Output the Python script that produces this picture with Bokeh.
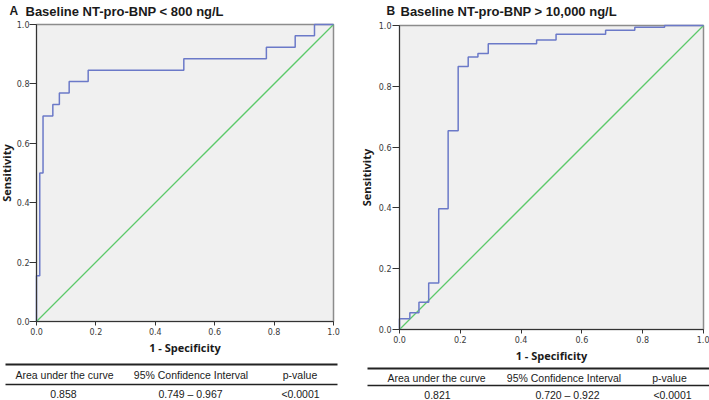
from bokeh.plotting import figure
from bokeh.models import (Range1d, FixedTicker, PrintfTickFormatter, ColumnDataSource,
                          LinearAxis)
from bokeh.core.properties import value
from bokeh.layouts import row
from bokeh.embed import file_html
from bokeh.resources import INLINE

# ---------------- data ----------------
fpr_a = [0.0, 0.0, 0.011, 0.022, 0.055, 0.077, 0.110, 0.174, 0.496, 0.774, 0.871, 0.936, 1.0]
sens_a = [0.0, 0.154, 0.500, 0.692, 0.731, 0.769, 0.808, 0.846, 0.885, 0.923, 0.962, 1.0, 1.0]

fpr_b = [0.0, 0.0, 0.034, 0.064, 0.096, 0.129, 0.160, 0.193, 0.226, 0.258, 0.292, 0.451, 0.515, 0.678, 0.774, 0.872, 1.0]
sens_b = [0.0, 0.035, 0.055, 0.090, 0.153, 0.397, 0.654, 0.865, 0.896, 0.908, 0.940, 0.952, 0.971, 0.984, 0.994, 1.0, 1.0]

chance_x = [0.0, 1.0]
chance_y = [0.0, 1.0]

tick_values = [0.0, 0.2, 0.4, 0.6, 0.8, 1.0]

letters = ["A", "B"]
titles = ["Baseline NT-pro-BNP < 800 ng/L", "Baseline NT-pro-BNP > 10,000 ng/L"]
x_title = "1 - Specificity"
y_title = "Sensitivity"
table_header = ["Area under the curve", "95% Confidence Interval", "p-value"]
table_a = ["0.858", "0.749 \u2013 0.967", "<0.0001"]
table_b = ["0.821", "0.720 \u2013 0.922", "<0.0001"]

BLUE = "#6b79c8"
GREEN = "#5cc96a"
TEXT = "#1a1a1a"
PLOT_BG = "#f0f0f0"
FRAME = "#8c8c8c"


def panel(fpr, sens, letter, title, vals, g):
    W, H = g["w"], g["h"]
    L, T, fw, fh = g["left"], g["top"], g["fw"], g["fh"]
    # page-pixel ranges for the texts and the table, y growing downward
    p = figure(width=W, height=H, x_range=Range1d(0, W), y_range=Range1d(H, 0),
               output_backend="svg", toolbar_location=None,
               x_axis_location=None, y_axis_location=None,
               min_border_left=0, min_border_right=0, min_border_top=0, min_border_bottom=0)
    p.xgrid.visible = False
    p.ygrid.visible = False
    p.outline_line_color = None
    p.background_fill_color = "white"
    p.border_fill_color = "white"

    # ROC ranges: 0..1 mapped onto the plot box
    p.extra_x_ranges = {"rx": Range1d(-L / fw, (W - L) / fw)}
    p.extra_y_ranges = {"ry": Range1d(-(H - T - fh) / fh, 1 + T / fh)}

    box = dict(left=[0.0], right=[1.0], bottom=[0.0], top=[1.0])
    p.quad(source=ColumnDataSource(box), left="left", right="right", bottom="bottom", top="top",
           x_range_name="rx", y_range_name="ry",
           fill_color=PLOT_BG, line_color=FRAME, line_width=1.5)

    p.line(chance_x, chance_y, x_range_name="rx", y_range_name="ry",
           line_color=GREEN, line_width=1.3)
    p.step(fpr, sens, mode="after", x_range_name="rx", y_range_name="ry",
           line_color=BLUE, line_width=1.5)

    xa = LinearAxis(x_range_name="rx", y_range_name="ry", fixed_location=0, bounds=(0, 1),
                    axis_label=x_title)
    ya = LinearAxis(x_range_name="rx", y_range_name="ry", fixed_location=0, bounds=(0, 1),
                    axis_label=y_title)
    for ax in (xa, ya):
        ax.ticker = FixedTicker(ticks=tick_values)
        ax.formatter = PrintfTickFormatter(format="%.1f")
        ax.minor_tick_line_color = None
        ax.major_tick_in = 0
        ax.major_tick_line_color = "#333333"
        ax.axis_line_color = "#333333"
        ax.major_label_text_font = "DejaVu Sans"
        ax.major_label_text_font_size = "8px"
        ax.major_label_text_color = "#3a3a3a"
        ax.axis_label_text_font = "Open Sans"
        ax.axis_label_text_font_size = "11px"
        ax.axis_label_text_font_style = "bold"
        ax.axis_label_text_color = TEXT
    xa.major_tick_out = 4
    xa.major_label_standoff = 2
    xa.axis_label_standoff = g["xlab_standoff"]
    ya.major_tick_out = 7
    ya.major_label_standoff = g["ytick_standoff"]
    ya.axis_label_standoff = g["ylab_standoff"]
    p.add_layout(xa, "below")
    p.add_layout(ya, "left")

    # panel title
    p.text(x=[g["letter_x"], g["title_x"]], y=[g["title_mid"]] * 2, text=[letter, title],
           text_font=value("Liberation Sans"), text_font_size=["12px", "13px"],
           text_font_style="bold", text_color=TEXT, text_align="left", text_baseline="middle")

    # table
    l, r = g["tab_l"], g["tab_r"]
    p.segment(x0=[l, l], x1=[r, r], y0=[g["line1"], g["line2"]], y1=[g["line1"], g["line2"]],
              line_color="#222222", line_width=[2.0, 1.6])
    src = ColumnDataSource(dict(x=list(g["hcols"]) + list(g["vcols"]),
                                y=[g["head_y"]] * 3 + [g["val_y"]] * 3,
                                t=table_header + vals))
    p.text(x="x", y="y", text="t", source=src, text_font=value("Liberation Sans"),
           text_font_size="10.5px", text_color=TEXT, text_align="center", text_baseline="middle")
    return p


geom_a = dict(w=360, h=400, left=36, top=24, fw=297, fh=297,
              letter_x=9, title_x=25, title_mid=10.5, xlab_standoff=2, ylab_standoff=0,
              ytick_standoff=0,
              tab_l=5, tab_r=337, line1=364, line2=384, head_y=374, val_y=393,
              hcols=[64, 190.5, 299.5], vcols=[63, 190, 300])
geom_b = dict(w=349, h=400, left=39, top=25, fw=304, fh=304,
              letter_x=26, title_x=40, title_mid=10.5, xlab_standoff=2, ylab_standoff=2,
              ytick_standoff=1,
              tab_l=7, tab_r=349, line1=368, line2=385, head_y=377, val_y=394,
              hcols=[76, 203.5, 309], vcols=[77, 207, 312])

pa = panel(fpr_a, sens_a, letters[0], titles[0], table_a, geom_a)
pb = panel(fpr_b, sens_b, letters[1], titles[1], table_b, geom_b)

layout = row(pa, pb)
open("out.html", "w").write(file_html(layout, INLINE))
